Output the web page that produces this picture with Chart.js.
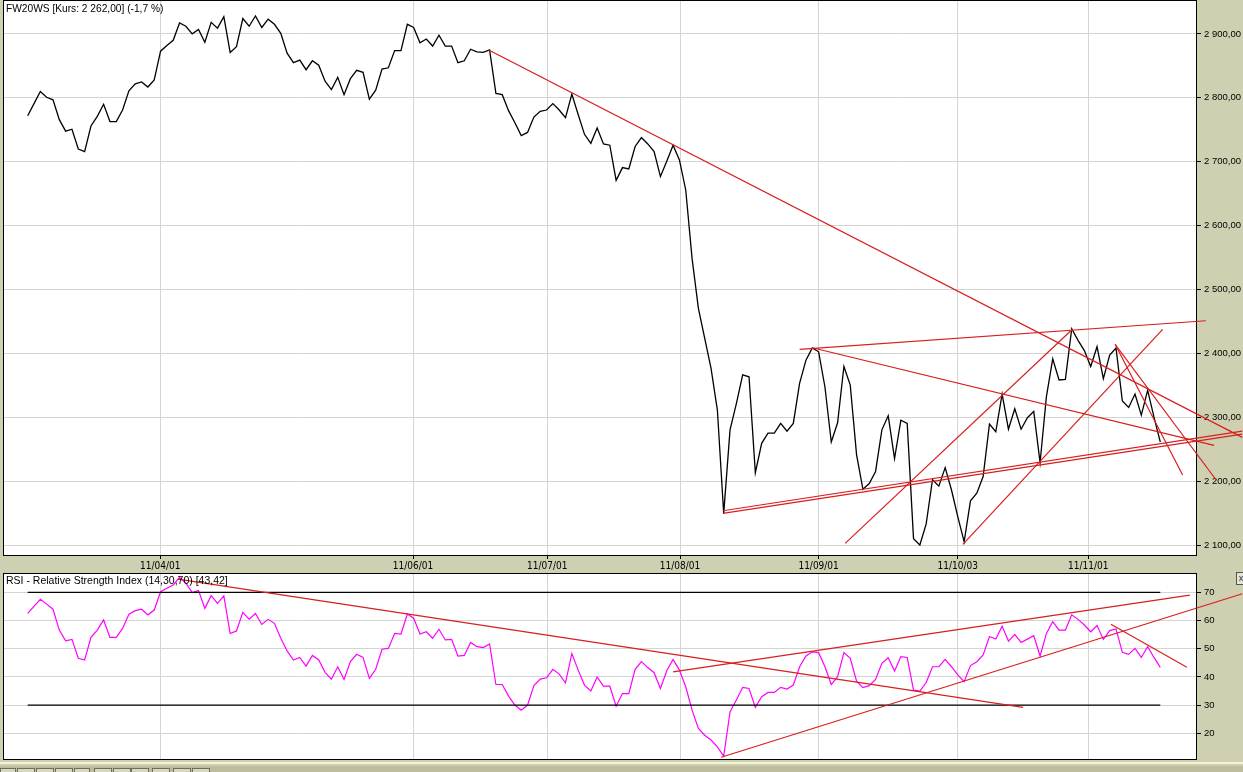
<!DOCTYPE html>
<html><head><meta charset="utf-8">
<script src="https://cdn.jsdelivr.net/npm/chart.js@4.4.1/dist/chart.umd.min.js"></script>
<style>
html,body{margin:0;padding:0}
body{background:#CFCFB1;width:1243px;height:772px;overflow:hidden;position:relative;font-family:'Liberation Sans',Arial,sans-serif}
canvas{position:absolute;left:0}
#c1{top:0}
#c2{top:572px}
.ttl{position:absolute;color:#000;white-space:nowrap;line-height:12px}
#strip1{position:absolute;left:0;top:762px;width:1243px;height:2px;background:#F2F2D6}
#strip2{position:absolute;left:0;top:766px;width:1243px;height:6px;background:#BDBD9E}
.tab{position:absolute;top:768px;height:4px;border:1px solid #6E6E5A;border-bottom:none;background:#D8D8C0}
#xbtn{position:absolute;left:1236px;top:572px;width:8px;height:11px;border:1px solid #555;background:#E4E4D4;font:9px 'Liberation Sans';line-height:11px;text-align:center;color:#333}
</style></head>
<body>
<canvas id="c1" width="1243" height="572" style="width:1243px;height:572px"></canvas>
<canvas id="c2" width="1243" height="190" style="width:1243px;height:190px"></canvas>
<div class="ttl" style="left:6px;top:3px;font-size:10.2px">FW20WS [Kurs: 2 262,00] (&#8209;1,7 %)</div>
<div class="ttl" style="left:6px;top:574px;font-size:10.5px">RSI &#8209; Relative Strength Index (14,30,70) [43,42]</div>
<div id="xbtn">x</div>
<div id="strip1"></div><div id="strip2"></div>
<div class="tab" style="left:0;width:14px"></div>
<div class="tab" style="left:17px;width:16px"></div>
<div class="tab" style="left:36px;width:16px"></div>
<div class="tab" style="left:55px;width:16px"></div>
<div class="tab" style="left:74px;width:14px"></div>
<div class="tab" style="left:94px;width:16px"></div>
<div class="tab" style="left:113px;width:16px"></div>
<div class="tab" style="left:131px;width:16px"></div>
<div class="tab" style="left:152px;width:16px"></div>
<div class="tab" style="left:173px;width:16px"></div>
<div class="tab" style="left:192px;width:16px"></div>
<script>
// ---- data ----
const price = [2772,2791,2810,2801,2797,2766,2748,2751,2720,2716,
2756,2771,2790,2763,2763,2781,2811,2822,2825,2817,
2828,2873,2882,2890,2917,2912,2900,2907,2887,2918,
2909,2927,2871,2880,2924,2912,2928,2910,2923,2915,
2901,2870,2855,2859,2844,2858,2851,2826,2813,2832,
2805,2830,2843,2840,2798,2812,2845,2847,2874,2874,
2915,2910,2886,2892,2881,2898,2881,2881,2855,2858,
2876,2872,2871,2875,2807,2805,2780,2761,2741,2746,
2770,2779,2781,2791,2781,2769,2806,2774,2743,2729,
2753,2728,2726,2671,2691,2689,2724,2738,2728,2716,
2677,2701,2726,2703,2656,2549,2471,2424,2377,2312,
2150,2281,2322,2367,2364,2214,2260,2276,2276,2291,
2279,2291,2354,2390,2409,2403,2348,2262,2292,2380,
2351,2242,2188,2197,2216,2281,2303,2236,2296,2291,
2111,2101,2134,2203,2193,2222,2187,2145,2106,2170,
2182,2208,2290,2278,2337,2282,2314,2282,2300,2310,
2230,2333,2392,2359,2360,2439,2421,2405,2380,2411,
2361,2398,2409,2326,2316,2337,2304,2343,2301,2262];

const rsi = [62.5,65.0,67.5,65.8,64.0,56.6,52.8,53.3,46.6,46.0,
54.0,56.6,60.2,54.0,54.0,57.2,62.2,63.5,64.0,62.0,
63.7,70.2,71.4,72.6,75.3,73.2,69.9,70.6,64.3,68.8,
66.1,68.7,55.4,56.3,62.9,60.5,62.5,58.6,60.4,59.0,
53.7,49.2,46.0,46.9,43.8,47.6,46.0,41.6,39.2,43.6,
39.1,45.4,48.0,46.9,39.5,42.7,49.8,50.1,55.4,55.2,
62.3,60.8,55.2,56.0,53.7,56.9,53.1,53.3,47.4,47.6,
52.2,50.7,50.4,51.7,37.3,37.3,33.2,30.0,28.2,30.0,
36.9,39.2,39.7,42.7,41.0,37.9,48.3,42.4,37.1,35.0,
40.0,36.7,36.7,29.6,34.1,34.1,42.7,45.4,43.3,41.5,
35.9,42.2,46.2,42.4,36.5,28.2,21.7,19.3,17.6,15.2,
11.9,27.6,31.8,36.3,35.9,29.2,33.0,34.5,34.5,36.3,
35.7,37.1,43.6,47.4,48.9,48.6,43.6,37.3,40.1,48.6,
46.6,38.5,36.2,36.9,39.1,44.8,46.8,42.1,47.2,46.9,
35.3,35.0,38.0,43.6,43.6,46.2,43.6,40.7,38.3,44.0,
45.4,47.8,54.3,53.4,58.0,52.7,55.1,52.2,53.4,54.6,
47.4,55.4,59.6,56.6,56.6,62.0,60.4,58.4,56.0,58.2,
53.3,56.4,57.0,48.7,48.0,50.1,46.9,50.7,46.9,43.4];

// date ticks (position in trading-day index) and labels
const dateTickPos = [20.95, 60.9, 82.1, 103.1, 125.0, 147.0, 167.6];
const dateTickLabels = ['11/04/01','11/06/01','11/07/01','11/08/01','11/09/01','11/10/03','11/11/01'];

const priceTicks = [2100,2200,2300,2400,2500,2600,2700,2800,2900];
const priceTickLabels = ['2 100,00','2 200,00','2 300,00','2 400,00','2 500,00','2 600,00','2 700,00','2 800,00','2 900,00'];
const rsiTicks = [20,30,40,50,60,70];
const rsiTickLabels = ['20','30','40','50','60','70'];
const rsiLevels = [30, 70];

// trend lines in data units: [index, value] endpoints
const priceTrendLines = [
  [[72.86,2874.8],[191.96,2269.3]],
  [[122.0,2406.9],[186.2,2451.6]],
  [[124.0,2409.4],[187.5,2256.8]],
  [[109.87,2154.5],[191.96,2279.1]],
  [[109.87,2150.4],[191.96,2274.4]],
  [[129.2,2103.6],[165.15,2438.6]],
  [[147.8,2102.0],[179.37,2438.1]],
  [[171.86,2414.7],[182.53,2210.3]],
  [[171.86,2414.7],[187.8,2203.0]]
];
const rsiTrendLines = [
  [[23.74,74.7],[157.3,29.2]],
  [[102.0,41.8],[183.67,69.0]],
  [[109.6,11.5],[191.96,69.5]],
  [[171.2,58.65],[183.2,43.4]]
];

// ---- helpers ----
const RED = '#D91E1E';
const GRID = '#D4D4D4';
const XMIN = -3.9, XMAX = 184.8;

const frame = {
  id:'frame',
  beforeDraw(chart){
    const {ctx, chartArea:a} = chart;
    ctx.save(); ctx.fillStyle='#FFFFFF';
    ctx.fillRect(a.left, a.top, a.right-a.left, a.bottom-a.top);
    ctx.restore();
  },
  beforeDatasetsDraw(chart){
    const {ctx, chartArea:a} = chart;
    ctx.save(); ctx.strokeStyle='#000'; ctx.lineWidth=1;
    ctx.strokeRect(Math.round(a.left)+0.5, Math.round(a.top)+0.5, Math.round(a.right-a.left)-1, Math.round(a.bottom-a.top)-1);
    ctx.restore();
  }
};

function lineDs(pts, color, width, order, clip){
  return {type:'line', data: pts.map(p=>({x:p[0], y:p[1]})), borderColor:color, borderWidth:width,
    pointRadius:0, tension:0, fill:false, order:order, clip: clip ? undefined : false};
}

function xScale(showLabels){
  return {
    type:'linear', min:XMIN, max:XMAX, position:'bottom',
    afterBuildTicks: s => { s.ticks = dateTickPos.map(v=>({value:v})); },
    ticks:{display:showLabels, autoSkip:false, maxRotation:0, minRotation:0, padding:1, color:'#000',
      font:{family:"'Liberation Sans Narrow','DejaVu Sans Condensed',sans-serif", size:10},
      callback:(v)=>dateTickLabels[dateTickPos.indexOf(v)]},
    grid:{color:GRID, lineWidth:1, drawTicks:showLabels, tickLength:3, tickColor:'#000'},
    border:{display:false},
    afterFit: s => { s.height = showLabels ? 16 : 0; s.paddingLeft = 0; s.paddingRight = 0; }
  };
}

function yScale(min, max, ticks, labels){
  return {
    type:'linear', position:'right', min:min, max:max,
    afterBuildTicks: s => { s.ticks = ticks.map(v=>({value:v})); },
    ticks:{padding:3, color:'#000', font:{family:"'Liberation Sans',Arial,sans-serif", size:9.5},
      callback:(v)=>labels[ticks.indexOf(v)]},
    grid:{color:GRID, lineWidth:1, tickLength:4, tickColor:'#000'},
    border:{display:false},
    afterFit: s => { s.width = 46; s.paddingTop = 0; s.paddingBottom = 0; }
  };
}

// ---- price chart ----
const ds1 = [ lineDs(price.map((v,i)=>[i,v]), '#000000', 1.3, 2, true) ];
priceTrendLines.forEach(l => ds1.push(lineDs(l, RED, 1.2, 0, false)));

new Chart(document.getElementById('c1'), {
  type:'line',
  data:{datasets: ds1},
  options:{
    responsive:false, animation:false, events:[],
    layout:{padding:{left:3, top:0, right:0, bottom:0}},
    plugins:{legend:{display:false}, tooltip:{enabled:false}, title:{display:false}},
    scales:{ x: xScale(true), y: yScale(2083.8, 2953.0, priceTicks, priceTickLabels) }
  },
  plugins:[frame]
});

// ---- RSI chart ----
const ds2 = [ lineDs(rsi.map((v,i)=>[i,v]), '#FF00FF', 1.2, 2, true) ];
rsiLevels.forEach(l => ds2.push(lineDs([[0,l],[rsi.length-1,l]], '#000000', 1.2, 1, true)));
rsiTrendLines.forEach(l => ds2.push(lineDs(l, RED, 1.2, 0, false)));

new Chart(document.getElementById('c2'), {
  type:'line',
  data:{datasets: ds2},
  options:{
    responsive:false, animation:false, events:[],
    layout:{padding:{left:3, top:1, right:0, bottom:2}},
    plugins:{legend:{display:false}, tooltip:{enabled:false}, title:{display:false}},
    scales:{ x: xScale(false), y: yScale(10.53, 76.84, rsiTicks, rsiTickLabels) }
  },
  plugins:[frame]
});
</script>
</body></html>
